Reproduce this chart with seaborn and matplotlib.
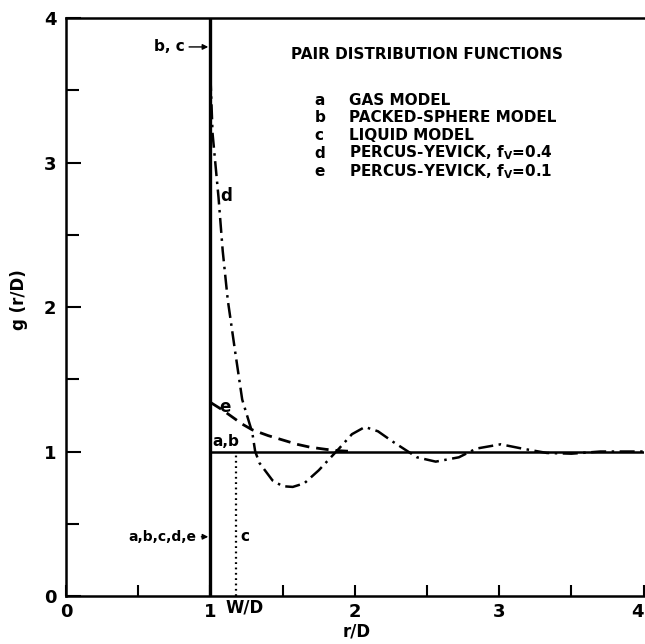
import numpy as np
import pandas as pd
import seaborn as sns
import matplotlib.pyplot as plt

sns.set_theme(style="ticks")
plt.rcParams["font.family"] = ["DejaVu Sans"]
plt.rcParams["font.weight"] = "bold"
plt.rcParams["text.color"] = "black"
plt.rcParams["axes.labelcolor"] = "black"
plt.rcParams["axes.labelweight"] = "bold"
plt.rcParams["xtick.color"] = "black"
plt.rcParams["ytick.color"] = "black"

# Percus-Yevick, f_V = 0.4 (curve d)
py04_r = [1.00, 1.015, 1.056, 1.085, 1.12, 1.17, 1.22, 1.29, 1.31, 1.34, 1.43, 1.50,
          1.57, 1.65, 1.75, 1.89, 1.98, 2.07, 2.16, 2.26, 2.43, 2.56, 2.72, 2.84,
          3.01, 3.16, 3.33, 3.50, 3.70, 4.00]
py04_g = [3.60, 3.20, 2.76, 2.39, 2.05, 1.70, 1.36, 1.13, 1.00, 0.92, 0.80, 0.76,
          0.755, 0.78, 0.87, 1.02, 1.12, 1.17, 1.14, 1.07, 0.96, 0.93, 0.96, 1.02,
          1.05, 1.02, 0.99, 0.985, 1.00, 1.00]

# Percus-Yevick, f_V = 0.1 (curve e)
py01_r = [1.00, 1.08, 1.15, 1.22, 1.29, 1.40, 1.50, 1.60, 1.69, 1.80, 1.90, 2.00]
py01_g = [1.34, 1.29, 1.24, 1.19, 1.15, 1.11, 1.08, 1.05, 1.03, 1.015, 1.005, 1.00]

# gas / packed-sphere models: g = 1 beyond contact, delta at r/D = 1
shell_r = [1.0, 4.0]
shell_g = [1.0, 1.0]
contact_r = [1.0, 1.0]
contact_g = [0.0, 4.0]

# liquid model: empty gap up to W/D
wd = 1.18
liquid_r = [wd, wd]
liquid_g = [0.0, 1.0]

legend_keys = ["a", "b", "c", "d", "e"]
legend_names = ["GAS MODEL", "PACKED-SPHERE MODEL", "LIQUID MODEL",
                r"PERCUS-YEVICK, $\mathregular{f_V}$=0.4",
                r"PERCUS-YEVICK, $\mathregular{f_V}$=0.1"]

fig = plt.figure(figsize=(6.45, 6.44), dpi=100)
ax = fig.add_axes([0.1023, 0.0745, 0.8957, 0.8975])

kw = dict(estimator=None, sort=False, color="black", ax=ax, legend=False)
sns.lineplot(x=contact_r, y=contact_g, linewidth=2.4, **kw)
sns.lineplot(x=shell_r, y=shell_g, linewidth=1.8, **kw)
sns.lineplot(x=liquid_r, y=liquid_g, linewidth=1.6, linestyle=(0, (0.8, 1.6)), **kw)
sns.lineplot(x=py01_r, y=py01_g, linewidth=2.0, linestyle=(0, (4.5, 2.5)), **kw)
sns.lineplot(x=py04_r, y=py04_g, linewidth=1.8,
             linestyle=(0, (6, 2.2, 1, 2.2)), **kw)

ax.set_xlim(0, 4)
ax.set_ylim(0, 4)
ax.set_xticks([0, 1, 2, 3, 4])
ax.set_xticks([0.5, 1.5, 2.5, 3.5], minor=True)
ax.set_yticks([0, 1, 2, 3, 4])
ax.set_yticks([0.5, 1.5, 2.5, 3.5], minor=True)
ax.tick_params(which="both", direction="in", width=1.5, labelsize=13, color="black")
ax.tick_params(axis="x", which="both", length=8, pad=5)
ax.tick_params(axis="y", which="major", length=11, pad=7)
ax.tick_params(axis="y", which="minor", length=9)
for lab in ax.get_xticklabels() + ax.get_yticklabels():
    lab.set_fontweight("bold")
ax.get_xticklabels()[-1].set_horizontalalignment("right")
for s in ["left", "bottom", "top"]:
    ax.spines[s].set_linewidth(1.8)
    ax.spines[s].set_color("black")
ax.spines["right"].set_visible(False)

ax.set_xlabel("r/D", fontsize=12)
ax.set_ylabel("g (r/D)", fontsize=12)
ax.xaxis.set_label_coords(0.503, -0.045)
ax.yaxis.set_label_coords(-0.066, 0.512)

# legend block
ax.text(1.56, 3.745, "PAIR DISTRIBUTION FUNCTIONS", fontsize=11, va="center")
ys = [3.43, 3.31, 3.185, 3.065, 2.94]
for key, name, y in zip(legend_keys, legend_names, ys):
    ax.text(1.72, y, key, fontsize=11, va="center")
    ax.text(1.96, y, name, fontsize=11, va="center")

# curve labels
ax.text(1.11, 2.77, "d", fontsize=12, ha="center", va="center")
ax.text(1.10, 1.31, "e", fontsize=12, ha="center", va="center")
ax.text(1.105, 1.07, "a,b", fontsize=11, ha="center", va="center")
ax.text(1.24, 0.41, "c", fontsize=11, ha="center", va="center")
ax.text(1.24, -0.08, "W/D", fontsize=12, ha="center", va="center", clip_on=False)

arrow = dict(arrowstyle="-|>", color="black", lw=1.0, mutation_scale=8,
             shrinkA=1, shrinkB=0)
ax.annotate("b, c", xy=(0.985, 3.80), xytext=(0.82, 3.80), fontsize=11,
            ha="right", va="center", arrowprops=arrow)
ax.annotate("a,b,c,d,e", xy=(0.985, 0.41), xytext=(0.905, 0.41), fontsize=10,
            ha="right", va="center", arrowprops=arrow)

fig.savefig("out.png", dpi=100)
